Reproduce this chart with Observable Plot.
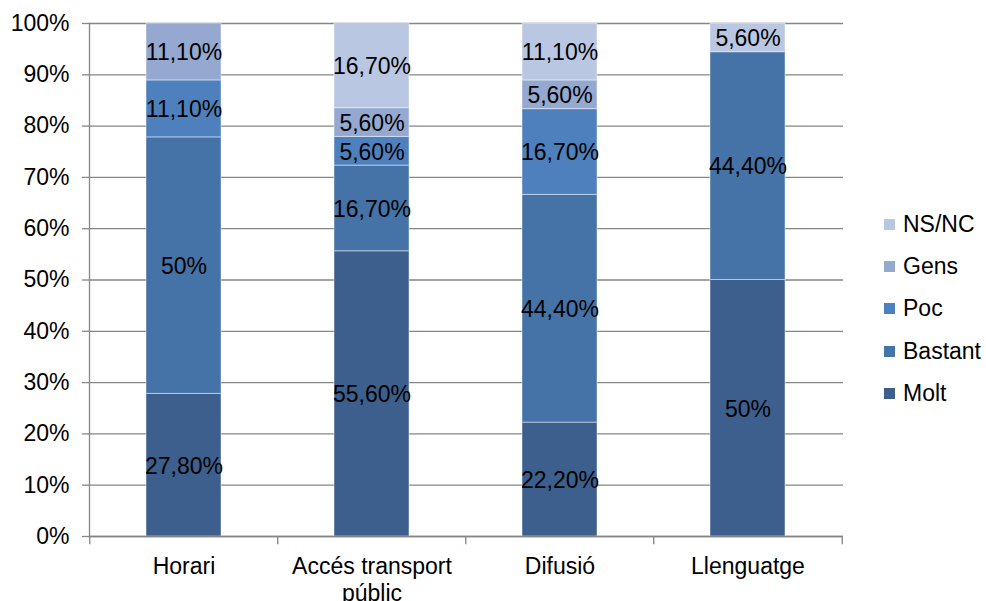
<!DOCTYPE html>
<html>
<head>
<meta charset="utf-8">
<script src="https://cdn.jsdelivr.net/npm/d3@7"></script>
<script src="https://cdn.jsdelivr.net/npm/@observablehq/plot@0.6"></script>
<style>
  html, body { margin: 0; padding: 0; background: #fff; }
  #wrap { position: relative; width: 986px; height: 601px; font-family: "Liberation Sans", Arial, sans-serif; }
  #legend { position: absolute; left: 884px; top: 0; }
  .li { position: absolute; left: 0; display: flex; align-items: center; white-space: nowrap; font-size: 23px; color: #000; }
  .sw { width: 11px; height: 11px; margin-right: 8px; }
</style>
</head>
<body>
<div id="wrap"><div id="legend"></div></div>
<script>
const categories = ["Horari", "Accés transport públic", "Difusió", "Llenguatge"];
const tickLabels = ["Horari", "Accés transport\npúblic", "Difusió", "Llenguatge"];
const series = ["Molt", "Bastant", "Poc", "Gens", "NS/NC"];
const colors = ["#3c5f8d", "#4572a7", "#4e80bd", "#94a8d0", "#bac7e2"];
const molt = [27.8, 55.6, 22.2, 50];
const bastant = [50, 16.7, 44.4, 44.4];
const poc = [11.1, 5.6, 16.7, 0];
const gens = [11.1, 5.6, 5.6, 0];
const nsnc = [0, 16.7, 11.1, 5.6];
const yTicks = [0, 10, 20, 30, 40, 50, 60, 70, 80, 90, 100];

const seriesValues = [molt, bastant, poc, gens, nsnc];
const data = [];
series.forEach((s, si) => {
  categories.forEach((c, ci) => {
    const v = seriesValues[si][ci];
    if (v > 0) data.push({category: c, series: s, value: v});
  });
});
const fmt = v => (Number.isInteger(v) ? String(v) : v.toFixed(2).replace(".", ",")) + "%";

const W = 986, H = 601, mL = 89, mR = 143, mT = 23, mB = 65;
const step = (W - mL - mR) / categories.length;
const gray = "#868686";

const plot = Plot.plot({
  width: W, height: H,
  marginLeft: mL, marginRight: mR, marginTop: mT, marginBottom: mB,
  style: {fontFamily: "'Liberation Sans', Arial, sans-serif", fontSize: "23px", color: "#000", background: "#fff"},
  x: {domain: categories, paddingInner: 0.6, paddingOuter: 0.3, axis: null, label: null},
  y: {domain: [0, 100], axis: null, label: null},
  color: {domain: series, range: colors},
  marks: [
    Plot.gridY(yTicks, {stroke: gray, strokeOpacity: 1, strokeWidth: 1.3}),
    Plot.barY(data, Plot.stackY({
      x: "category", y: "value", fill: "series", z: "series", order: series,
      stroke: "#ffffff", strokeOpacity: 0.45, strokeWidth: 1, clip: true
    })),
    Plot.text(data, Plot.stackY({
      x: "category", y: "value", z: "series", order: series, text: d => fmt(d.value),
      fill: "#000", fontSize: 23, dy: 1
    })),
    Plot.frame({anchor: "left", stroke: gray, strokeWidth: 1.3}),
    Plot.ruleY([0], {stroke: gray, strokeWidth: 1.3}),
    Plot.axisY(yTicks, {label: null, tickSize: 7, tickPadding: 13, stroke: gray, strokeWidth: 1.3, tickFormat: d => d + "%", fontSize: 23, fill: "#000"}),
    Plot.ruleX(categories, {x: d => d, dx: -step / 2, y1: 0, y2: -1.6, stroke: gray, strokeWidth: 1.3, clip: false}),
    Plot.ruleX(categories.slice(-1), {x: d => d, dx: step / 2, y1: 0, y2: -1.6, stroke: gray, strokeWidth: 1.3, clip: false}),
    Plot.axisX(categories, {label: null, tickSize: 0, tickPadding: 19, tickFormat: d => tickLabels[categories.indexOf(d)], lineHeight: 1.15, fontSize: 23, fill: "#000"})
  ]
});
document.getElementById("wrap").prepend(plot);
plot.style.position = "absolute"; plot.style.left = "0"; plot.style.top = "0";

const legend = document.getElementById("legend");
const rowY = [224, 266, 308, 351, 393];
series.slice().reverse().forEach((s, i) => {
  const row = document.createElement("div");
  row.className = "li";
  row.style.top = (rowY[i] - 14) + "px";
  row.style.height = "28px";
  const sw = document.createElement("div");
  sw.className = "sw";
  sw.style.background = colors[series.indexOf(s)];
  const t = document.createElement("span");
  t.textContent = s;
  row.appendChild(sw); row.appendChild(t);
  legend.appendChild(row);
});
</script>
</body>
</html>
